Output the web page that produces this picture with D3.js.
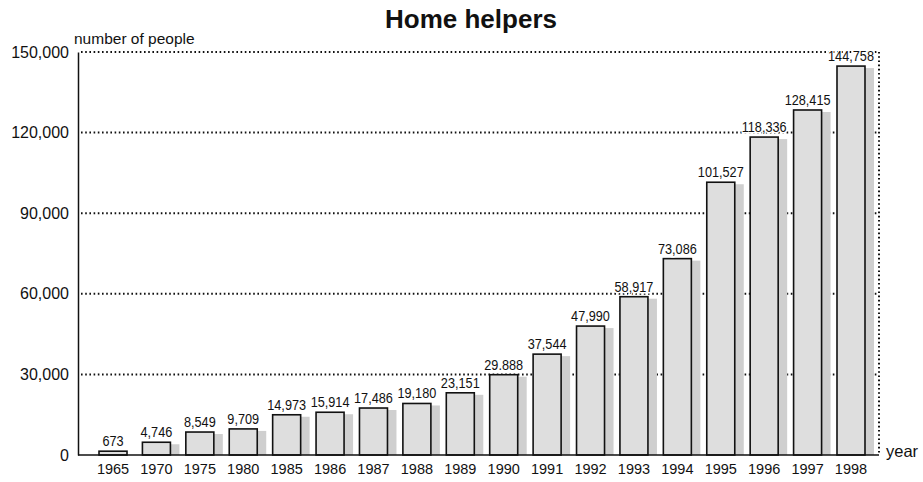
<!DOCTYPE html>
<html>
<head>
<meta charset="utf-8">
<script src="https://cdn.jsdelivr.net/npm/d3@7"></script>
<style>
  body { margin: 0; background: #fff; }
  svg { display: block; }
</style>
</head>
<body>
<svg id="chart" width="923" height="482"></svg>
<script>
var years = ['1965','1970','1975','1980','1985','1986','1987','1988','1989','1990','1991','1992','1993','1994','1995','1996','1997','1998'];
var helpers = [673,4746,8549,9709,14973,15914,17486,19180,23151,29888,37544,47990,58917,73086,101527,118336,128415,144758];
var valueLabels = ['673','4,746','8,549','9,709','14,973','15,914','17,486','19,180','23,151','29.888','37,544','47,990','58,917','73,086','101,527','118,336','128,415','144,758'];
var yTicks = [0,30000,60000,90000,120000,150000];

var svg = d3.select('#chart');
var plotLeft = 78, plotRight = 879, plotTop = 52, plotBottom = 455;
var font = 'Liberation Sans, Arial, Helvetica, sans-serif';

var x = d3.scaleBand()
    .domain(years)
    .range([91.3, 872.7])
    .paddingInner(0.355)
    .paddingOuter(0.1775);

var y = d3.scaleLinear()
    .domain([0,150000])
    .range([plotBottom, plotTop]);

// title
svg.append('text')
    .attr('x', 471).attr('y', 28)
    .attr('text-anchor','middle')
    .style('font-family',font)
    .style('font-weight','700')
    .style('font-size','26px')
    .attr('fill','#111')
    .text('Home helpers');

svg.append('text')
    .attr('x', 74).attr('y', 44)
    .style('font-family',font)
    .style('font-size','15.5px')
    .attr('fill','#111')
    .text('number of people');

// dotted grid
svg.selectAll('.grid')
    .data(yTicks.filter(d => d > 0))
    .enter().append('line')
    .attr('class','grid')
    .attr('x1', plotLeft + 3).attr('x2', plotRight)
    .attr('y1', d => y(d)).attr('y2', d => y(d))
    .attr('stroke','#111')
    .attr('stroke-width',2)
    .attr('stroke-dasharray','1.6,2.6');

// right dotted frame
svg.append('line')
    .attr('x1', plotRight).attr('x2', plotRight)
    .attr('y1', plotTop).attr('y2', plotBottom)
    .attr('stroke','#111')
    .attr('stroke-width',2)
    .attr('stroke-dasharray','1.6,2.6');

// y axis
var yAxis = d3.axisLeft(y)
    .tickValues(yTicks)
    .tickSize(0)
    .tickPadding(9)
    .tickFormat(d3.format(','));

var gy = svg.append('g')
    .attr('transform','translate(' + plotLeft + ',0)')
    .call(yAxis);
gy.select('.domain').attr('stroke','#111').attr('stroke-width',1.5);
gy.selectAll('text')
    .style('font-family',font)
    .style('font-size','16px')
    .attr('fill','#111');

// bars with shadow
var bars = svg.selectAll('.bar')
    .data(years)
    .enter().append('g')
    .attr('class','bar');

bars.append('rect')
    .attr('x', (d,i) => x(d) + x.bandwidth())
    .attr('y', (d,i) => y(helpers[i]) + 2)
    .attr('width', 9)
    .attr('height', (d,i) => Math.max(0, plotBottom - y(helpers[i]) - 2))
    .attr('fill','#cfcfcf');

bars.append('rect')
    .attr('x', d => x(d))
    .attr('y', (d,i) => y(helpers[i]) - (i === 0 ? 2 : 0))
    .attr('width', x.bandwidth())
    .attr('height', (d,i) => plotBottom - y(helpers[i]) + (i === 0 ? 2 : 0))
    .attr('fill','#dedede')
    .attr('stroke','#111')
    .attr('stroke-width',1.6);

// value labels (condensed)
svg.selectAll('.val')
    .data(years)
    .enter().append('text')
    .attr('class','val')
    .attr('transform', (d,i) => 'translate(' + (x(d) + x.bandwidth()/2) + ',' + (y(helpers[i]) - (i === 0 ? 7 : 5)) + ') scale(0.82,1)')
    .attr('text-anchor','middle')
    .style('font-family',font)
    .style('font-size','15.5px')
    .attr('fill','#111')
    .attr('stroke','#fff')
    .attr('stroke-width',3)
    .attr('paint-order','stroke')
    .text((d,i) => valueLabels[i]);

// x axis
var xAxis = d3.axisBottom(x).tickSize(0).tickPadding(9);
var gx = svg.append('g')
    .attr('transform','translate(0,' + plotBottom + ')')
    .call(xAxis);
gx.select('.domain').remove();
gx.selectAll('text')
    .style('font-family',font)
    .style('font-size','14.5px')
    .attr('fill','#111');

svg.append('line')
    .attr('x1', plotLeft).attr('x2', plotRight)
    .attr('y1', plotBottom).attr('y2', plotBottom)
    .attr('stroke','#111')
    .attr('stroke-width',1.5);

svg.append('text')
    .attr('x', 886).attr('y', 457)
    .style('font-family',font)
    .style('font-size','16.5px')
    .attr('fill','#111')
    .text('year');
</script>
</body>
</html>
